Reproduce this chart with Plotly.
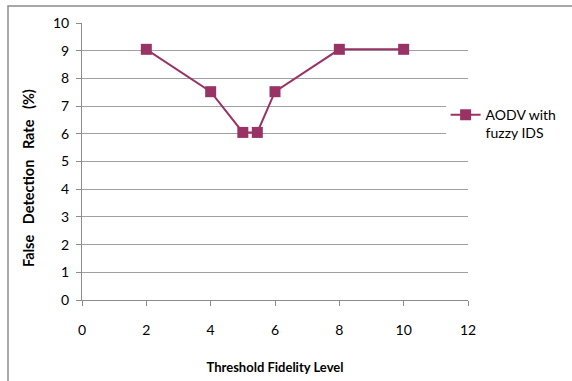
import plotly.graph_objects as go

threshold = [2, 4, 5, 5.45, 6, 8, 10]
false_rate = [9.05, 7.52, 6.05, 6.05, 7.52, 9.05, 9.05]
series_name = "AODV with<br>fuzzy IDS"
x_ticks = [0, 2, 4, 6, 8, 10, 12]
y_ticks = [0, 1, 2, 3, 4, 5, 6, 7, 8, 9, 10]
x_title = "Threshold Fidelity Level"
y_title = "False&nbsp;&nbsp; Detection&nbsp;&nbsp; Rate&nbsp;&nbsp; (%)"

color = "#993366"
font = "Lato, 'Open Sans', sans-serif"

fig = go.Figure()
fig.add_trace(go.Scatter(
    x=threshold, y=false_rate, mode="lines+markers", name=series_name,
    line=dict(color=color, width=2),
    marker=dict(symbol="square", size=11, color=color),
))

fig.update_layout(
    width=572, height=381,
    margin=dict(l=82, r=104, t=23, b=81, autoexpand=False),
    paper_bgcolor="white", plot_bgcolor="white",
    font=dict(family=font, size=14, color="#000000"),
    showlegend=True,
    legend=dict(x=0.942, y=0.725, xanchor="left", yanchor="top",
                bgcolor="white", borderwidth=0, valign="top",
                font=dict(size=14), itemwidth=30, tracegroupgap=0),
    xaxis=dict(range=[0, 12], tickvals=x_ticks, showgrid=False, automargin=False,
               showline=True, linecolor="#8c8c8c", linewidth=1,
               ticks="outside", ticklen=5, tickcolor="#8c8c8c",
               ticklabelstandoff=12, zeroline=False,
               title=dict(text="<b>" + x_title + "</b>", font=dict(size=13), standoff=26)),
    yaxis=dict(range=[0, 10], tickvals=y_ticks, showgrid=True, automargin=False,
               gridcolor="#a0a0a0", gridwidth=1,
               showline=True, linecolor="#8c8c8c", linewidth=1,
               ticks="outside", ticklen=5, tickcolor="#8c8c8c",
               ticklabelstandoff=4, zeroline=False),
    annotations=[dict(text="<b>" + y_title + "</b>", xref="paper", yref="paper",
                      x=-0.14, y=0.44, textangle=-90, showarrow=False,
                      xanchor="center", yanchor="middle",
                      font=dict(size=14.5, family=font))],
    shapes=[dict(type="rect", xref="paper", yref="paper",
                 x0=-0.1917, x1=1.30, y0=-0.35, y1=1.061,
                 line=dict(color="#8c8c8c", width=1.5), layer="below")],
)

fig.write_html("out.html")
